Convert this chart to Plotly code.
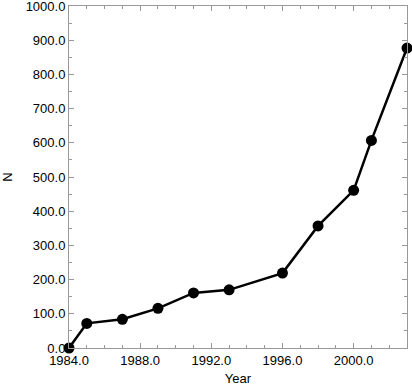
import plotly.graph_objects as go

# data
years = [1984, 1985, 1987, 1989, 1991, 1993, 1996, 1998, 2000, 2001, 2003]
n_vals = [0, 72, 84, 116, 161, 170, 219, 357, 461, 607, 877]

font_name = "Liberation Sans, Arial, Helvetica"
gray = "#999999"

fig = go.Figure()
fig.add_trace(go.Scatter(
    x=years, y=n_vals,
    mode="lines+markers",
    line=dict(color="black", width=2.5),
    marker=dict(color="black", size=11),
    cliponaxis=False,
    showlegend=False,
))

axis_common = dict(
    showline=True, linecolor=gray, linewidth=1, mirror="ticks",
    ticks="inside", ticklen=5, tickcolor=gray, tickwidth=1,
    showgrid=False, zeroline=False,
    tickfont=dict(family=font_name, size=13, color="black"),
    tickformat=".1f",
    ticklabeloverflow="allow",
    automargin=False,
)

fig.update_xaxes(
    range=[1984, 2003], dtick=4, tick0=1984,
    minor=dict(dtick=1, ticks="inside", ticklen=3, tickcolor=gray),
    title=dict(text="Year", font=dict(family=font_name, size=13, color="black"), standoff=8),
    **axis_common,
)
fig.update_yaxes(
    range=[0, 1000], dtick=100,
    minor=dict(dtick=50, ticks="inside", ticklen=3, tickcolor=gray),
    title=dict(text="N", font=dict(family=font_name, size=13, color="black"), standoff=12),
    **axis_common,
)

fig.update_layout(
    width=412, height=386,
    margin=dict(l=69, r=5, t=6, b=38),
    plot_bgcolor="white", paper_bgcolor="white",
)

fig.write_html("out.html", config={"displayModeBar": False},
               post_script="document.body.style.margin='0';")
